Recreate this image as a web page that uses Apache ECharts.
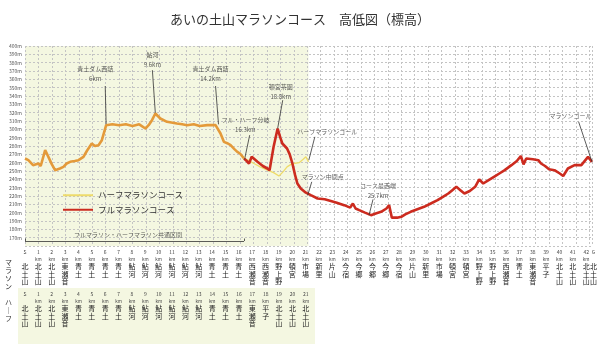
<!DOCTYPE html>
<html>
<head>
<meta charset="utf-8">
<script src="https://cdn.jsdelivr.net/npm/echarts@6/dist/echarts.min.js"></script>
<style>
html, body { margin: 0; padding: 0; background: #fff; }
#chart { width: 600px; height: 350px; }
</style>
</head>
<body>
<div id="chart"></div>
<script>
// 共通区間 S → 16.3km  [km, 標高m]
const commonCourse = [
  [0, 265], [0.25, 263], [0.6, 257], [1.0, 259], [1.17, 256], [1.5, 275], [1.74, 267], [2.0, 258],
  [2.24, 251], [2.6, 253], [2.86, 255], [3.1, 259], [3.36, 261], [3.7, 262], [3.98, 263], [4.35, 267],
  [4.6, 274], [4.97, 283], [5.2, 280], [5.47, 281], [5.72, 287], [6.04, 305], [6.5, 306], [7.0, 305],
  [7.5, 306], [8.0, 304], [8.5, 306], [8.96, 301], [9.2, 305], [9.45, 311], [9.7, 319], [10.07, 313],
  [10.57, 309], [11.3, 307], [11.7, 306], [12.06, 305], [12.56, 306], [13.0, 304], [13.56, 305],
  [14.18, 305], [14.55, 295], [14.8, 285], [15.1, 283], [15.3, 281], [15.6, 276], [15.8, 273],
  [16.0, 271], [16.3, 265]
];
// フルマラソン 16.3km → ゴール
const fullCourse = [
  [16.3, 265], [16.5, 262], [16.67, 259], [16.87, 267], [17.3, 261], [17.7, 256], [18.04, 253],
  [18.2, 251], [18.5, 279], [18.8, 301], [19.0, 290], [19.15, 283], [19.5, 277], [19.7, 270],
  [19.9, 259], [20.1, 245], [20.27, 235], [20.52, 229], [20.9, 224], [21.27, 221], [21.77, 217],
  [22.3, 216], [22.76, 214], [23.2, 212], [23.75, 209], [24.2, 206], [24.4, 211], [24.6, 205],
  [24.87, 203], [25.3, 200], [25.75, 197], [26.1, 199], [26.5, 201], [26.9, 205], [27.1, 209],
  [27.3, 194], [27.7, 194], [28.0, 195], [28.3, 198], [28.7, 201], [29.2, 204], [29.7, 207],
  [30.2, 211], [30.7, 215], [31.1, 219], [31.5, 223], [31.8, 227], [32.1, 231], [32.4, 227],
  [32.7, 223], [33.1, 226], [33.5, 231], [33.8, 240], [34.1, 235], [34.5, 239], [34.9, 243],
  [35.3, 247], [35.7, 251], [36.2, 257], [36.6, 262], [36.9, 268], [37.1, 258], [37.3, 265],
  [37.8, 264], [38.2, 263], [38.4, 259], [38.7, 256], [39.0, 252], [39.4, 251], [39.8, 247],
  [40.05, 244], [40.4, 253], [40.9, 257], [41.4, 257], [41.9, 267], [42.195, 261]
];
// ハーフマラソン 16.3km → ゴール
const halfCourse = [
  [16.3, 265], [16.6, 263], [17.04, 259], [17.5, 255], [18.04, 251], [18.5, 248], [18.9, 244],
  [19.2, 249], [19.5, 255], [19.8, 258], [20.0, 259], [20.4, 260], [20.7, 264], [20.9, 267],
  [21.0975, 261]
];

// 距離表（マラソン）
const fullTicks = ['S', '1', '2', '3', '4', '5', '6', '7', '8', '9', '10', '11', '12', '13', '14', '15',
  '16', '17', '18', '19', '20', '21', '22', '23', '24', '25', '26', '27', '28', '29', '30', '31', '32',
  '33', '34', '35', '36', '37', '38', '39', '40', '41', '42', 'G'];
const fullTickKm = [0, 1, 2, 3, 4, 5, 6, 7, 8, 9, 10, 11, 12, 13, 14, 15, 16, 17, 18, 19, 20, 21, 22,
  23, 24, 25, 26, 27, 28, 29, 30, 31, 32, 33, 34, 35, 36, 37, 38, 39, 40, 41, 42, 42.55];
const fullPlaces = ['北土山', '北土山', '北土山', '東瀬音', '青土', '青土', '青土', '青土', '鮎河', '鮎河',
  '鮎河', '鮎河', '鮎河', '鮎河', '青土', '青土', '青土', '西瀬音', '西瀬音', '野上野', '頓宮', '市場', '新里',
  '片山', '今宿', '今郷', '今郷', '今郷', '今宿', '片山', '新里', '市場', '頓宮', '頓宮', '野上野', '野上野',
  '西瀬音', '青土', '東瀬音', '平子', '北土山', '北土山', '北土山', '北土山'];
// 距離表（ハーフ）
const halfTicks = ['S', '1', '2', '3', '4', '5', '6', '7', '8', '9', '10', '11', '12', '13', '14', '15',
  '16', '17', '18', '19', '20', '21', 'G'];
const halfTickKm = [0, 1, 2, 3, 4, 5, 6, 7, 8, 9, 10, 11, 12, 13, 14, 15, 16, 17, 18, 19, 20, 21, 21.5];
const halfPlaces = ['北土山', '北土山', '北土山', '東瀬音', '青土', '青土', '青土', '青土', '鮎河', '鮎河',
  '鮎河', '鮎河', '鮎河', '鮎河', '青土', '青土', '青土', '東瀬音', '平子', '北土山', '北土山', '北土山', '北土山'];

// 注記: 文字の位置と引出線 [km, m]
const noteTexts = ['青土ダム西詰\n6km', '鮎河\n9.6km', '青土ダム西詰\n14.2km', 'フル・ハーフ分岐\n16.3km',
  '頓宮茶園\n18.8km', 'ハーフマラソンゴール', 'マラソン中間点', 'コース最西端\n25.7km', 'マラソンゴール',
  'フルマラソン・ハーフマラソン共通区間'];
const noteAt = [[5.22, 367], [9.48, 383], [13.8, 367], [16.4, 306], [19.03, 345], [22.5, 297],
  [22.16, 243], [26.27, 226], [40.6, 316], [7.66, 174]];
const leaders = [
  [[5.97, 352], [6.04, 305]], [[9.48, 371], [9.7, 319]], [[14.18, 352], [14.4, 306]],
  [[16.72, 293], [16.34, 264]], [[19.18, 335], [18.8, 301]], [[21.57, 291], [21.12, 263]],
  [[21.34, 237], [21.04, 221]], [[25.9, 216], [25.6, 197]], [[41.2, 309], [42.195, 261]]
];
const commonRange = [0, 16.3];

function rowLabel(ticks, kms, places) {
  return function (value) {
    const i = kms.findIndex(k => Math.abs(k - value) < 1e-6);
    if (i < 0) return '';
    const unit = (ticks[i] === 'S' || ticks[i] === 'G') ? ' ' : 'km';
    const chars = places[i].split('').map(c => '{p|' + c + '}').join('\n');
    return '{n|' + ticks[i] + '}\n{u|' + unit + '}\n' + chars;
  };
}

const rowRich = {
  n: { fontSize: 5, lineHeight: 6, color: '#444' },
  u: { fontSize: 4.5, lineHeight: 8, color: '#444' },
  p: { fontSize: 7, lineHeight: 7.5, color: '#222' }
};
const gridLine = { show: true, lineStyle: { color: '#c4c4c4', type: [2, 2], width: 1 } };

const chart = echarts.init(document.getElementById('chart'));
const option = {
  animation: false,
  textStyle: { fontFamily: 'Noto Sans CJK JP' },
  title: {
    text: 'あいの土山マラソンコース　高低図（標高）',
    left: 'center', top: 8,
    textStyle: { fontSize: 13, fontWeight: 'normal', color: '#333' }
  },
  legend: {
    orient: 'vertical', left: 57, top: 186, itemWidth: 30, itemHeight: 10, itemGap: 6,
    data: ['ハーフマラソンコース', 'フルマラソンコース'],
    itemStyle: { opacity: 0 },
    textStyle: { fontSize: 8.5, color: '#333' }
  },
  grid: [
    { left: 25, top: 46, width: 567, height: 200 },
    { left: 25, top: 247, width: 577.8, height: 1 },
    { left: 25, top: 289, width: 577.8, height: 1 },
    { left: 25, top: 46, width: 283.5, height: 200, show: true, borderWidth: 0, backgroundColor: '#f4f7e1' },
    { left: 18, top: 288, width: 297, height: 56, show: true, borderWidth: 0, backgroundColor: '#f4f7e1' }
  ],
  xAxis: [
    { gridIndex: 0, type: 'value', min: 0, max: 42.195, interval: 1,
      axisLine: { show: false }, axisTick: { show: false }, axisLabel: { show: false }, splitLine: gridLine },
    { gridIndex: 1, type: 'value', min: 0, max: 43, axisLine: { show: false }, axisTick: { show: false },
      splitLine: { show: false },
      axisLabel: { customValues: fullTickKm, margin: 1, formatter: rowLabel(fullTicks, fullTickKm, fullPlaces), rich: rowRich } },
    { gridIndex: 2, type: 'value', min: 0, max: 43, axisLine: { show: false }, axisTick: { show: false },
      splitLine: { show: false },
      axisLabel: { customValues: halfTickKm, margin: 1, formatter: rowLabel(halfTicks, halfTickKm, halfPlaces), rich: rowRich } }
  ],
  yAxis: [
    { gridIndex: 0, type: 'value', min: 160, max: 400, interval: 10,
      axisLine: { show: false }, axisTick: { show: false }, splitLine: gridLine,
      axisLabel: { fontSize: 5, color: '#555', margin: 3, formatter: v => v === 160 ? '' : v + 'm' } },
    { gridIndex: 1, show: false },
    { gridIndex: 2, show: false }
  ],
  graphic: [
    { type: 'text', left: 5, top: 258, style: { text: 'マ\nラ\nソ\nン', fontSize: 7, lineHeight: 8, fill: '#333', fontFamily: 'Noto Sans CJK JP' } },
    { type: 'text', left: 5, top: 298, style: { text: 'ハ\n｜\nフ', fontSize: 7, lineHeight: 8, fill: '#333', fontFamily: 'Noto Sans CJK JP' } }
  ],
  series: [
    {
      name: 'ハーフマラソンコース', type: 'line', data: halfCourse, symbol: 'none', z: 3,
      lineStyle: { color: '#eedb6a', width: 1.3 }, itemStyle: { color: '#eedb6a' }
    },
    {
      name: 'フルマラソンコース', type: 'line', data: fullCourse, symbol: 'none', z: 4,
      lineStyle: { color: '#cc2b1f', width: 2.6 }, itemStyle: { color: '#cc2b1f' }
    },
    {
      name: '共通区間', type: 'line', data: commonCourse, symbol: 'none', z: 5,
      lineStyle: { color: '#e49a3a', width: 2.6 },
      markLine: {
        silent: true, symbol: 'none', label: { show: false },
        lineStyle: { color: '#333', width: 0.8, type: 'solid' },
        data: leaders.map(p => [{ coord: p[0] }, { coord: p[1] }]).concat([
          [{ coord: [commonRange[0], 166] }, { coord: [commonRange[1], 166] }],
          [{ coord: [commonRange[0], 166] }, { coord: [commonRange[0], 169] }],
          [{ coord: [commonRange[1], 166] }, { coord: [commonRange[1], 169] }]
        ])
      }
    },
    {
      name: '注記', type: 'scatter', symbolSize: 0, z: 6, silent: true,
      data: noteTexts.map((t, i) => ({ name: t, value: noteAt[i] })),
      label: { show: true, position: 'inside', formatter: '{b}', fontSize: 6, lineHeight: 10, color: '#333' }
    }
  ]
};
chart.setOption(option);
</script>
</body>
</html>
